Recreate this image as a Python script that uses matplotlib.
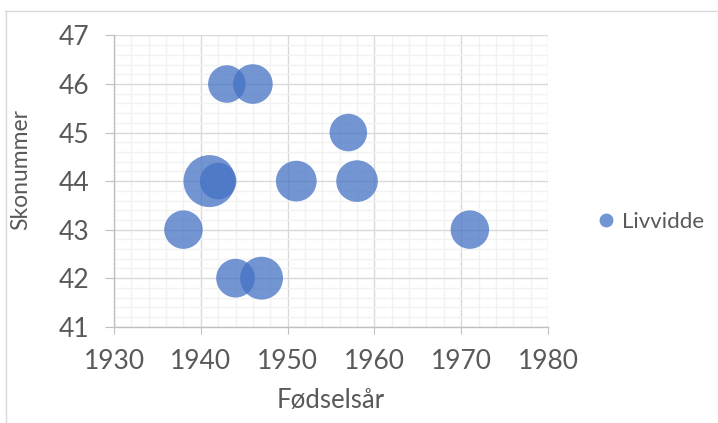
import matplotlib.pyplot as plt
from matplotlib.lines import Line2D
from matplotlib.ticker import MultipleLocator

# --- Dados ---
fodselsar = [1943, 1946, 1957, 1941, 1942, 1951, 1958, 1938, 1971, 1944, 1947]
skonummer = [46, 46, 45, 44, 44, 44, 44, 43, 43, 42, 42]
livvidde = [78, 87, 78, 150, 74, 92, 96, 82, 82, 83, 102]

# --- Estilo ---
bubble_color = '#4472C4'
text_color = '#595959'
tick_fontsize = 19
label_fontsize = 18.5
legend_fontsize = 16
plt.rcParams['font.family'] = ['Lato', 'DejaVu Sans']

W, H = 718, 423
fig = plt.figure(figsize=(W / 100, H / 100), dpi=100)
ax = fig.add_axes([114 / W, 1 - 326.7 / H, 434 / W, 291.2 / H])

# bolhas: area proporcional ao valor
scale = 9.35
sizes = [v * scale for v in livvidde]
ax.scatter(fodselsar, skonummer, s=sizes, color=bubble_color, alpha=0.75,
           edgecolors='none', zorder=3)

ax.set_xlim(1930, 1980)
ax.set_ylim(41, 47)
ax.xaxis.set_major_locator(MultipleLocator(10))
ax.xaxis.set_minor_locator(MultipleLocator(2))
ax.yaxis.set_major_locator(MultipleLocator(1))
ax.yaxis.set_minor_locator(MultipleLocator(0.2))

ax.grid(which='major', color='#D9D9D9', linewidth=1.0, zorder=1)
ax.grid(which='minor', color='#F2F2F2', linewidth=1.0, zorder=0)
ax.set_axisbelow(True)

for s in ['top', 'right']:
    ax.spines[s].set_visible(False)
for s in ['left', 'bottom']:
    ax.spines[s].set_color('#BFBFBF')
    ax.spines[s].set_linewidth(1.0)

ax.tick_params(axis='both', which='major', colors='#BFBFBF', labelcolor=text_color,
               labelsize=tick_fontsize, direction='out')
ax.tick_params(axis='y', which='major', length=6.5, pad=11)
ax.tick_params(axis='x', which='major', length=5, pad=11)
ax.tick_params(which='minor', length=0)

ax.set_xlabel('Fødselsår', fontsize=label_fontsize, color=text_color)
ax.set_ylabel('Skonummer', fontsize=16.5, color=text_color)
ax.xaxis.set_label_coords(0.5, -0.21)
ax.yaxis.set_label_coords(-0.19, 0.54)

handle = Line2D([], [], linestyle='none', marker='o', markersize=10,
                markerfacecolor=bubble_color, markeredgecolor='none', alpha=0.75)
fig.legend([handle], ['Livvidde'], loc='center left',
           bbox_to_anchor=(595 / W, 1 - 222 / H), frameon=False,
           fontsize=legend_fontsize, labelcolor=text_color, handletextpad=0.2,
           handlelength=1.0, borderpad=0, borderaxespad=0)

# moldura do gráfico
fig.add_artist(Line2D([5.5 / W, 5.5 / W], [0, 1 - 11 / H], color='#D9D9D9', linewidth=1))
fig.add_artist(Line2D([5 / W, 1], [1 - 11.5 / H, 1 - 11.5 / H], color='#D9D9D9', linewidth=1))

fig.savefig('out.png', dpi=100)
